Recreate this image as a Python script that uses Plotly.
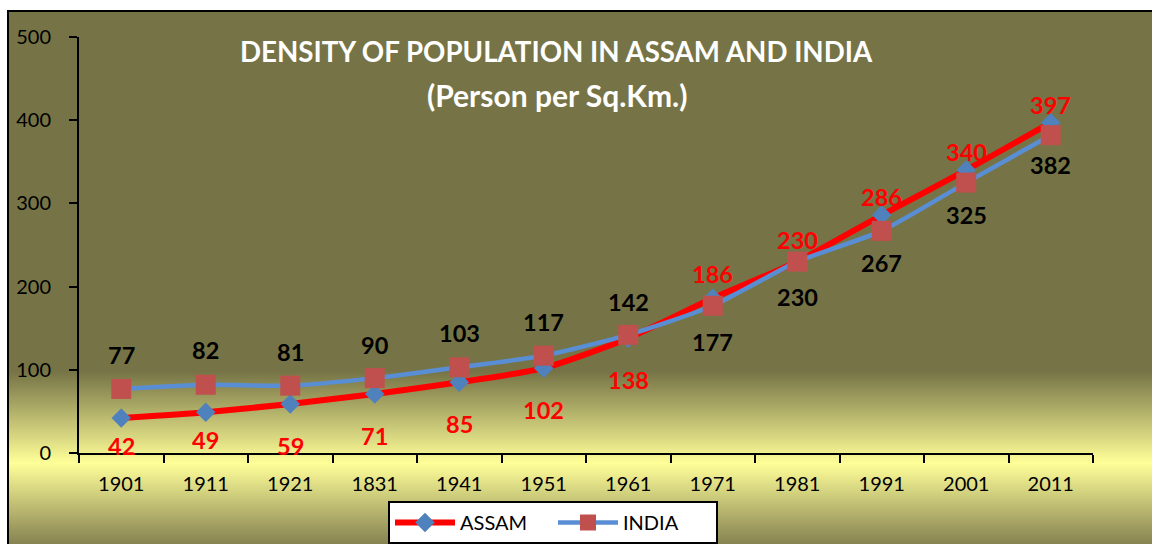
import plotly.graph_objects as go

# ---------------- data ----------------
years = ["1901", "1911", "1921", "1831", "1941", "1951", "1961", "1971", "1981", "1991", "2001", "2011"]
assam = [42, 49, 59, 71, 85, 102, 138, 186, 230, 286, 340, 397]
india = [77, 82, 81, 90, 103, 117, 142, 177, 230, 267, 325, 382]

# ---------------- styling ----------------
W, H = 1152, 544
L, R, T, B = 79, 1093, 37, 453          # plot area in page pixels
FONT = "Lato"

# label offsets (pixels; positive = up)
assam_shift = [-28, -28, -42, -42, -42, -42, -42, 24, 22, 18, 18, 18]
india_shift = [34, 35, 34, 33, 34, 34, 33, -36, -35, -32, -32, -30]


def px_x(p):
    return (p - L) / (R - L)


def px_y(p):
    return (B - p) / (B - T)


def hex2rgb(h):
    h = h.lstrip("#")
    return tuple(int(h[i:i + 2], 16) for i in (0, 2, 4))


stops = [(10, "#767446"), (372, "#767446"), (463, "#FFFF99"), (544, "#858251")]


def color_at(p):
    for (p0, c0), (p1, c1) in zip(stops[:-1], stops[1:]):
        if p0 <= p <= p1:
            t = (p - p0) / (p1 - p0) if p1 > p0 else 0
            a, b = hex2rgb(c0), hex2rgb(c1)
            return "rgb(%d,%d,%d)" % tuple(round(a[i] + (b[i] - a[i]) * t) for i in range(3))
    return stops[-1][1]


shapes = []
shapes.append(dict(type="rect", xref="paper", yref="paper", layer="below",
                   x0=px_x(7), x1=px_x(W), y0=px_y(372), y1=px_y(10),
                   fillcolor="#767446", line=dict(width=0)))
step = 2
p = 372
while p < H:
    shapes.append(dict(type="rect", xref="paper", yref="paper", layer="below",
                       x0=px_x(7), x1=px_x(W), y0=px_y(min(p + step + 0.5, H)), y1=px_y(p),
                       fillcolor=color_at(p + step / 2), line=dict(width=0)))
    p += step
shapes.append(dict(type="line", xref="paper", yref="paper", layer="below",
                   x0=px_x(7), x1=px_x(W), y0=px_y(11), y1=px_y(11),
                   line=dict(color="black", width=2)))
shapes.append(dict(type="line", xref="paper", yref="paper", layer="below",
                   x0=px_x(8), x1=px_x(8), y0=px_y(10), y1=px_y(H),
                   line=dict(color="black", width=2)))

fig = go.Figure()
fig.add_trace(go.Scatter(
    x=years, y=assam, name="ASSAM", mode="lines+markers",
    line=dict(color="#FF0000", width=6, shape="spline", smoothing=0.6),
    marker=dict(symbol="diamond", size=15, color="#4F81BD"),
))
fig.add_trace(go.Scatter(
    x=years, y=india, name="INDIA", mode="lines+markers",
    line=dict(color="#5A8ED4", width=4.5, shape="spline", smoothing=0.6),
    marker=dict(symbol="square", size=20, color="#C0504D"),
))

annotations = []
for i, (v, s) in enumerate(zip(assam, assam_shift)):
    annotations.append(dict(x=i, y=v, xref="x", yref="y", text="<b>%d</b>" % v,
                            showarrow=False, yshift=s,
                            font=dict(family=FONT, size=23.5, color="#FF0000")))
for i, (v, s) in enumerate(zip(india, india_shift)):
    annotations.append(dict(x=i, y=v, xref="x", yref="y", text="<b>%d</b>" % v,
                            showarrow=False, yshift=s,
                            font=dict(family=FONT, size=23.5, color="#000000")))
# title
annotations.append(dict(x=px_x(556), y=px_y(52), xref="paper", yref="paper",
                        text="<b>DENSITY OF POPULATION IN ASSAM AND INDIA</b>",
                        showarrow=False, xanchor="center", yanchor="middle",
                        font=dict(family=FONT, size=27.7, color="white")))
annotations.append(dict(x=px_x(557), y=px_y(95), xref="paper", yref="paper",
                        text="<b>(Person per Sq.Km.)</b>",
                        showarrow=False, xanchor="center", yanchor="middle",
                        font=dict(family=FONT, size=30, color="white")))

fig.update_layout(
    width=W, height=H,
    margin=dict(l=L, r=W - R, t=T, b=H - B, pad=0, autoexpand=False),
    paper_bgcolor="white",
    plot_bgcolor="rgba(0,0,0,0)",
    shapes=shapes,
    annotations=annotations,
    showlegend=True,
    legend=dict(orientation="h", x=px_x(553), y=px_y(501), xanchor="center", yanchor="top",
                bgcolor="white", bordercolor="black", borderwidth=2,
                font=dict(family=FONT, size=20, color="black"),
                entrywidth=88, entrywidthmode="pixels", itemwidth=60,
                traceorder="normal"),
    xaxis=dict(type="category", range=[-0.5, 11.5], tickson="boundaries",
               ticks="outside", ticklen=8, tickwidth=2, tickcolor="black",
               showline=True, linewidth=2, linecolor="black", showgrid=False,
               ticklabelstandoff=12,
               tickfont=dict(family=FONT, size=20, color="black")),
    yaxis=dict(range=[0, 500], dtick=100, tick0=0,
               ticks="outside", ticklen=8, tickwidth=2, tickcolor="black",
               showline=True, linewidth=2, linecolor="black", showgrid=False,
               zeroline=False, ticklabelstandoff=14,
               tickfont=dict(family=FONT, size=20, color="black")),
)

fig.write_html(
    "out.html",
    config={"displayModeBar": False},
    post_script="document.body.style.margin='0';document.documentElement.style.overflow='hidden';document.body.style.overflow='hidden';",
)
